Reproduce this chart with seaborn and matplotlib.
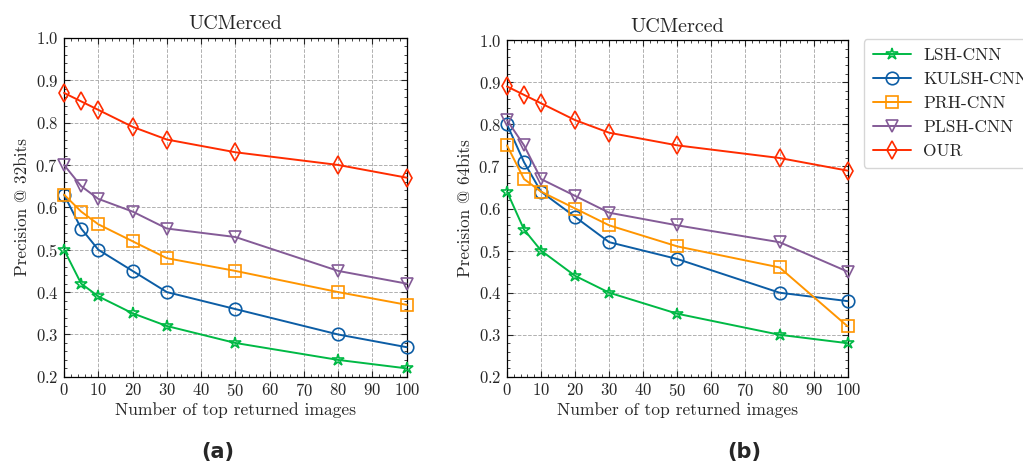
import matplotlib
matplotlib.use("Agg")
import matplotlib.pyplot as plt
import seaborn as sns
from matplotlib.ticker import MultipleLocator

# ---- data ----
top_k = [0, 5, 10, 20, 30, 50, 80, 100]
methods = ["LSH-CNN", "KULSH-CNN", "PRH-CNN", "PLSH-CNN", "OUR"]

prec32_lsh = [0.50, 0.42, 0.39, 0.35, 0.32, 0.28, 0.24, 0.22]
prec32_kulsh = [0.63, 0.55, 0.50, 0.45, 0.40, 0.36, 0.30, 0.27]
prec32_prh = [0.63, 0.59, 0.56, 0.52, 0.48, 0.45, 0.40, 0.37]
prec32_plsh = [0.70, 0.65, 0.62, 0.59, 0.55, 0.53, 0.45, 0.42]
prec32_our = [0.87, 0.85, 0.83, 0.79, 0.76, 0.73, 0.70, 0.67]

prec64_lsh = [0.64, 0.55, 0.50, 0.44, 0.40, 0.35, 0.30, 0.28]
prec64_kulsh = [0.80, 0.71, 0.64, 0.58, 0.52, 0.48, 0.40, 0.38]
prec64_prh = [0.75, 0.67, 0.64, 0.60, 0.56, 0.51, 0.46, 0.32]
prec64_plsh = [0.81, 0.75, 0.67, 0.63, 0.59, 0.56, 0.52, 0.45]
prec64_our = [0.89, 0.87, 0.85, 0.81, 0.78, 0.75, 0.72, 0.69]

titles = ["UCMerced", "UCMerced"]
ylabels = ["Precision @ 32bits", "Precision @ 64bits"]
xlabel = "Number of top returned images"
panel_tags = ["(a)", "(b)"]

# ---- style ----
colors = ["#00B945", "#0C5DA5", "#FF9500", "#845B97", "#FF2C00"]
markers = ["*", "o", "s", "v", "d"]
msizes = [9, 9, 8, 9, 9]

sns.set_theme(style="ticks")
plt.rcParams["font.family"] = ["cmr10", "DejaVu Serif"]
plt.rcParams["mathtext.fontset"] = "cm"
plt.rcParams["axes.formatter.use_mathtext"] = True
plt.rcParams["axes.unicode_minus"] = False

fig = plt.figure(figsize=(10.23, 4.67), dpi=100)
ax1 = fig.add_axes([0.0626, 0.193, 0.335, 0.726])
ax2 = fig.add_axes([0.4956, 0.193, 0.333, 0.721])

series = [
    [prec32_lsh, prec32_kulsh, prec32_prh, prec32_plsh, prec32_our],
    [prec64_lsh, prec64_kulsh, prec64_prh, prec64_plsh, prec64_our],
]

for i, ax in enumerate([ax1, ax2]):
    for name, vals, c, m, ms in zip(methods, series[i], colors, markers, msizes):
        sns.lineplot(x=top_k, y=vals, ax=ax, color=c, marker=m, markersize=ms,
                     markerfacecolor="none", markeredgecolor=c, markeredgewidth=1.2,
                     linewidth=1.4, label=name, legend=False, clip_on=False, zorder=3)
    ax.set_xlim(0, 100)
    ax.set_ylim(0.2, 1.0)
    ax.xaxis.set_major_locator(MultipleLocator(10))
    ax.xaxis.set_minor_locator(MultipleLocator(2))
    ax.yaxis.set_major_locator(MultipleLocator(0.1))
    ax.yaxis.set_minor_locator(MultipleLocator(0.02))
    ax.tick_params(which="both", direction="in", top=True, right=True, labelsize=12, pad=4)
    ax.tick_params(which="major", length=4, width=0.8)
    ax.tick_params(which="minor", length=2, width=0.6)
    ax.grid(True, which="major", linestyle="--", color="#b0b0b0", linewidth=0.7)
    for s in ax.spines.values():
        s.set_color("black")
        s.set_linewidth(0.9)
    ax.set_title(titles[i], fontsize=14.5, pad=6)
    ax.set_xlabel(xlabel, fontsize=12.6, labelpad=2)
    ax.set_ylabel(ylabels[i], fontsize=12.3, labelpad=4)

handles, labels = ax1.get_legend_handles_labels()
leg = fig.legend(handles, labels, loc="upper left", bbox_to_anchor=(0.836, 0.935),
                 fontsize=12.5, frameon=True, fancybox=True, edgecolor="#cccccc",
                 handlelength=2.2, handletextpad=0.7, borderpad=0.5, labelspacing=0.5)

fig.text(0.213, 0.033, panel_tags[0], fontsize=15, fontweight="bold",
         family="DejaVu Sans", ha="center", va="center")
fig.text(0.728, 0.033, panel_tags[1], fontsize=15, fontweight="bold",
         family="DejaVu Sans", ha="center", va="center")

fig.savefig("out.png", dpi=100)
